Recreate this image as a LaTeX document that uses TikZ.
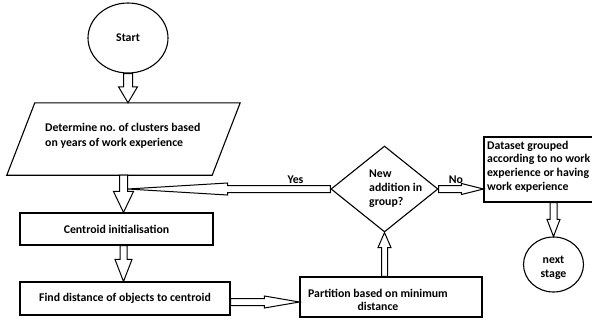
\documentclass[tikz,border=0pt]{standalone}
\usepackage{fontspec}
\setmainfont{Carlito}
\usetikzlibrary{shapes.geometric,calc}
\frenchspacing
\tikzset{
  shapeline/.style={draw, line width=1.1pt},
  box/.style={shapeline, rectangle, inner sep=0pt},
  lbl/.style={font=\bfseries\fontsize{11.8}{13.7}\selectfont},
  blk/.style={draw, line width=1pt, fill=white, line join=miter},
}
% block (hollow) arrow: from, to, shaft half width, head half width, head length
\newcommand\blockarrow[5]{%
  \path[blk] let \p1=(#1), \p2=(#2),
    \n1={atan2(\y2-\y1,\x2-\x1)}, \n2={veclen(\x2-\x1,\y2-\y1)} in
    [shift={(\p1)}, rotate=\n1]
    (0,#3) -- ({\n2-#5},#3) -- ({\n2-#5},#4) -- (\n2,0) --
    ({\n2-#5},-#4) -- ({\n2-#5},-#3) -- (0,-#3) -- cycle;}
\begin{document}
\begin{tikzpicture}[x=1pt,y=-1pt]
\useasboundingbox (0,0) rectangle (592,324);
\clip (0,0) rectangle (592,324);
\fill[white] (0,0) rectangle (592,324);

% nodes
\node[shapeline, ellipse, minimum width=80pt, minimum height=70pt, inner sep=0pt, lbl] (start) at (128,38) {Start};

\node[minimum width=205pt, minimum height=72pt, inner sep=0pt] (para) at (123.5,139) {};
\draw[line width=1.1pt] ([xshift=14pt]para.north west) -- ([xshift=14pt]para.north east)
  -- ([xshift=-14pt]para.south east) -- ([xshift=-14pt]para.south west) -- cycle;
\node[lbl, font=\bfseries\fontsize{11.8}{15}\selectfont, align=left, anchor=west, inner sep=0pt] (paratext) at (45,135.5)
  {Determine no.\ of clusters based\\on years of work experience};

\node[box, minimum width=193pt, minimum height=32pt, lbl] (cent) at (116.5,229) {Centroid initialisation};
\node[box, minimum width=210pt, minimum height=33pt, lbl] (find) at (125,298.5) {Find distance of objects to centroid};

\node[box, minimum width=182pt, minimum height=40pt] (part) at (391,297) {};
\node[lbl, font=\bfseries\fontsize{11.8}{13}\selectfont, align=center, inner sep=0pt] (parttext) at (378,299.5)
  {Partition based on minimum\\distance};

\node[shapeline, diamond, minimum width=107pt, minimum height=86pt, inner sep=0pt] (dia) at (384.5,189) {};
\node[lbl, align=left, anchor=west, inner sep=0pt] (diatext) at (369,188.5) {New\\addition in\\group?};

\node[box, minimum width=116pt, minimum height=65pt] (data) at (542,169.5) {};
\node[lbl, align=left, anchor=west, inner sep=0pt] (datatext) at (487,166.5)
  {Dataset grouped\\according to no work\\experience or having\\work experience};

\node[shapeline, ellipse, minimum width=60pt, minimum height=55pt, inner sep=0pt] (next) at (553.5,264.5) {};
\node[lbl, align=center, inner sep=0pt] (nexttext) at (553.5,268) {next\\stage};

% connectors
\blockarrow{start.south}{start.south |- para.north}{4.5}{9.5}{16}
\blockarrow{para.south}{para.south |- cent.north}{4}{10}{21}
\blockarrow{para.south |- cent.south}{para.south |- find.north}{3.5}{8.5}{22}
\coordinate (fe) at ($(find.east)+(0,3.5)$);
\blockarrow{fe}{fe -| part.west}{3.5}{6}{35}
\blockarrow{dia.south |- part.north}{dia.south}{3}{6.5}{15}
\coordinate (yestip) at ($(para.south |- dia.west)+(4,0)$);
\blockarrow{dia.west}{yestip}{3.5}{6}{100}
\blockarrow{dia.east}{dia.east -| data.west}{3.5}{5.5}{22}
\blockarrow{next.north |- data.south}{next.north}{3.5}{6.5}{17}

\node[lbl] (yes) at (295.5,179.5) {Yes};
\node[lbl] (no) at (456,180) {No};
\end{tikzpicture}
\end{document}
